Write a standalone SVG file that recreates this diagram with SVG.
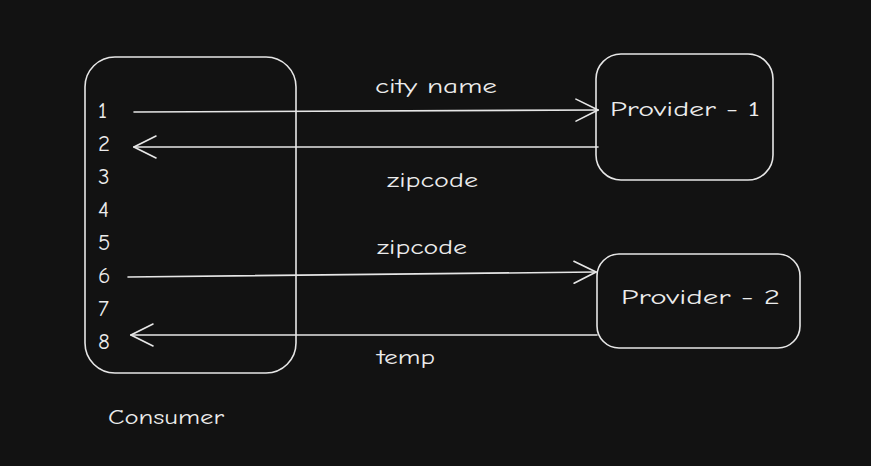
<svg xmlns="http://www.w3.org/2000/svg" width="871" height="466" viewBox="0 0 871 466">
<defs>
<style>
.box{fill:none;stroke:#e6e6e6;stroke-width:1.6}
.ln{fill:none;stroke:#e6e6e6;stroke-width:1.6;stroke-linecap:round;stroke-linejoin:round}
text{font-family:"Comic Neue","Liberation Sans","DejaVu Sans",sans-serif;fill:#ececec;font-size:21px}
.num{font-size:23px}
</style>
<marker id="ah" viewBox="0 0 24 24" refX="23" refY="12" markerWidth="24" markerHeight="24" markerUnits="userSpaceOnUse" orient="auto">
<path d="M1 1 L23 12 L1 23" fill="none" stroke="#e6e6e6" stroke-width="1.6" stroke-linecap="round"/>
</marker>
</defs>
<rect width="871" height="466" fill="#121212"/>
<g id="consumer">
<rect class="box" x="85" y="57" width="211" height="316" rx="30"/>
<text class="num" x="98" y="118">1</text>
<text class="num" x="98" y="151">2</text>
<text class="num" x="98" y="184">3</text>
<text class="num" x="98" y="217">4</text>
<text class="num" x="98" y="250">5</text>
<text class="num" x="98" y="283">6</text>
<text class="num" x="98" y="316">7</text>
<text class="num" x="98" y="349">8</text>
<text x="108" y="424" textLength="116" lengthAdjust="spacingAndGlyphs">Consumer</text>
</g>
<g id="provider1">
<rect class="box" x="596" y="54" width="177" height="126" rx="25"/>
<text x="610" y="116" textLength="150" lengthAdjust="spacingAndGlyphs">Provider - 1</text>
</g>
<g id="provider2">
<rect class="box" x="597" y="254" width="203" height="94" rx="22"/>
<text x="621" y="304" textLength="159" lengthAdjust="spacingAndGlyphs">Provider - 2</text>
</g>
<g id="connectors">
<path class="ln" d="M134 112 L598 110" marker-end="url(#ah)"/>
<path class="ln" d="M598 147 L134 147" marker-end="url(#ah)"/>
<path class="ln" d="M128 277 L596 272" marker-end="url(#ah)"/>
<path class="ln" d="M597 335 L131 335" marker-end="url(#ah)"/>
<text x="375" y="93" textLength="122" lengthAdjust="spacingAndGlyphs">city name</text>
<text x="387" y="187" textLength="91" lengthAdjust="spacingAndGlyphs">zipcode</text>
<text x="377" y="254" textLength="90" lengthAdjust="spacingAndGlyphs">zipcode</text>
<text x="377" y="364" textLength="58" lengthAdjust="spacingAndGlyphs">temp</text>
</g>
</svg>
